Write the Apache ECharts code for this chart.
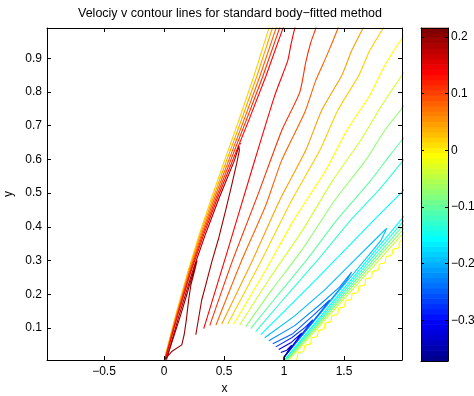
<!DOCTYPE html>
<html>
<head>
<meta charset="utf-8">
<script src="https://cdn.jsdelivr.net/npm/echarts@6.0.0/dist/echarts.min.js"></script>
<style>
html, body { margin: 0; padding: 0; background: #fff; }
#box { width: 474px; height: 396px; }
</style>
</head>
<body>
<div id="box"></div>
<script>
// axis ranges and ticks
var xRange = [-0.975, 1.983];
var yRange = [0.005, 0.99];
var colorRange = [-0.372, 0.216];
var xTicks = [-0.5, 0, 0.5, 1, 1.5];
var yTicks = [0.1, 0.2, 0.3, 0.4, 0.5, 0.6, 0.7, 0.8, 0.9];
var barTicks = [-0.3, -0.2, -0.1, 0, 0.1, 0.2];

// shock band from the origin (levels 0.02 .. 0.14)
var s002 = [[0.002,0.006],[0.098,0.139],[0.198,0.266],[0.298,0.382],[0.398,0.488],[0.506,0.598],[0.623,0.716],[0.748,0.846],[0.873,0.988],[0.884,1.0]];
var s005 = [[0.004,0.006],[0.102,0.139],[0.204,0.266],[0.307,0.382],[0.411,0.488],[0.523,0.598],[0.644,0.716],[0.773,0.846],[0.902,0.988],[0.914,1.0]];
var s008 = [[0.006,0.006],[0.107,0.139],[0.211,0.266],[0.317,0.382],[0.423,0.488],[0.540,0.598],[0.665,0.716],[0.798,0.846],[0.932,0.988],[0.944,1.0]];
var s011 = [[0.008,0.006],[0.111,0.139],[0.217,0.266],[0.326,0.382],[0.436,0.488],[0.556,0.598],[0.685,0.716],[0.823,0.846],[0.961,0.988],[0.974,1.0]];
var s014 = [[0.010,0.006],[0.115,0.139],[0.223,0.266],[0.336,0.382],[0.448,0.488],[0.573,0.598],[0.706,0.716],[0.848,0.846],[0.990,0.988],[1.003,1.0]];

// narrow loops behind the shock
var loopA = [[0.01,0.008],[0.064,0.030],[0.148,0.050],[0.168,0.080],[0.186,0.124],[0.205,0.183],[0.224,0.228],[0.252,0.266],[0.275,0.300],[0.262,0.292],[0.243,0.266],[0.191,0.200],[0.139,0.139],[0.075,0.068],[0.02,0.008]];
var loopB = [[0.265,0.080],[0.314,0.183],[0.348,0.228],[0.398,0.296],[0.456,0.367],[0.514,0.450],[0.564,0.524],[0.606,0.589],[0.628,0.627],[0.624,0.640],[0.614,0.628],[0.588,0.598],[0.462,0.488],[0.349,0.382],[0.236,0.266],[0.127,0.139],[0.02,0.006]];
var dotB = [[0.636,0.645],[0.641,0.648]];

// fan of lines between the two shocks
var f014 = [[0.331,0.098],[0.531,0.331],[0.731,0.568],[0.923,0.790],[1.031,0.893],[1.056,0.938],[1.089,0.988],[1.106,1.006]];
var f011 = [[0.381,0.107],[0.573,0.302],[0.781,0.494],[0.981,0.686],[1.131,0.799],[1.181,0.888],[1.223,0.947],[1.264,0.988],[1.273,1.006]];
var f008 = [[0.433,0.109],[0.642,0.296],[0.848,0.464],[0.981,0.598],[1.173,0.740],[1.264,0.834],[1.356,0.908],[1.448,0.988],[1.464,1.006]];
var f005 = [[0.481,0.112],[0.739,0.302],[0.964,0.479],[1.181,0.627],[1.314,0.746],[1.481,0.849],[1.564,0.923],[1.656,0.988],[1.681,1.006]];
var f002 = [[0.531,0.112],[0.814,0.302],[1.064,0.479],[1.298,0.627],[1.448,0.746],[1.623,0.849],[1.714,0.923],[1.823,0.988],[1.848,1.006]];
var fm001 = [[0.581,0.112],[0.848,0.272],[1.081,0.420],[1.348,0.568],[1.523,0.686],[1.714,0.790],[1.839,0.879],[1.981,0.959],[2.014,0.973]];
var fm004 = [[0.631,0.109],[0.873,0.243],[1.156,0.391],[1.406,0.538],[1.639,0.657],[1.814,0.760],[1.981,0.849],[2.014,0.864]];
var fm007 = [[0.681,0.104],[0.898,0.213],[1.148,0.331],[1.423,0.479],[1.681,0.598],[1.839,0.686],[1.981,0.751],[2.014,0.766]];
var fm010 = [[0.723,0.098],[0.914,0.183],[1.189,0.302],[1.439,0.420],[1.723,0.538],[1.864,0.604],[1.981,0.657],[2.014,0.669]];
var fm013 = [[0.764,0.089],[0.989,0.183],[1.281,0.302],[1.556,0.420],[1.789,0.509],[1.981,0.592],[2.014,0.607]];
var fm016 = [[0.806,0.080],[1.014,0.154],[1.264,0.243],[1.506,0.331],[1.748,0.420],[1.981,0.503],[2.014,0.515]];

// pointed loops ending on the second shock near x = 1
var u019 = [[0.839,0.071],[1.089,0.136],[1.339,0.213],[1.589,0.302],[1.773,0.367],[1.856,0.396],[1.806,0.359],[1.564,0.255],[1.298,0.141],[1.131,0.069],[1.002,0.014],[0.998,0.0]];
var u022 = [[0.873,0.062],[1.089,0.107],[1.298,0.169],[1.464,0.222],[1.564,0.266],[1.523,0.242],[1.381,0.180],[1.173,0.088],[1.002,0.014],[0.998,0.0]];
var u025 = [[0.906,0.053],[1.073,0.083],[1.239,0.136],[1.381,0.183],[1.356,0.171],[1.239,0.119],[1.131,0.071],[1.002,0.014],[0.998,0.0]];
var u028 = [[0.931,0.044],[1.064,0.071],[1.173,0.101],[1.239,0.124],[1.214,0.112],[1.131,0.074],[1.002,0.014],[0.998,0.0]];
var u031 = [[0.956,0.036],[1.056,0.056],[1.148,0.085],[1.131,0.077],[1.064,0.044],[1.002,0.014],[0.998,0.0]];
var u034 = [[0.973,0.027],[1.023,0.034],[1.064,0.049],[1.048,0.040],[1.002,0.014],[0.998,0.0]];

// second shock band from x = 1
var b016 = [[1.006,0.006],[1.981,0.424],[2.02,0.44]];
var b013 = [[1.014,0.006],[1.981,0.411],[2.02,0.427]];
var b010 = [[1.023,0.006],[1.981,0.399],[2.02,0.415]];
var b007 = [[1.031,0.006],[1.981,0.388],[2.02,0.403]];
var b004 = [[1.043,0.006],[1.981,0.376],[2.02,0.392]];
var wavy = [[1.095,0.004],[1.107,0.009],[1.117,0.026],[1.163,0.031],[1.174,0.048],[1.220,0.053],[1.230,0.070],[1.276,0.075],[1.287,0.092],[1.333,0.097],[1.343,0.114],[1.389,0.119],[1.400,0.136],[1.446,0.141],[1.456,0.158],[1.502,0.163],[1.512,0.180],[1.559,0.185],[1.569,0.201],[1.615,0.206],[1.625,0.223],[1.672,0.228],[1.682,0.245],[1.728,0.250],[1.738,0.267],[1.785,0.272],[1.795,0.289],[1.841,0.294],[1.851,0.311],[1.897,0.316],[1.908,0.333],[1.954,0.338],[1.964,0.355],[1.99,0.36]];

// [level, line, smooth]
var contours = [
	[0.02, s002, 0], [0.05, s005, 0], [0.08, s008, 0], [0.11, s011, 0], [0.14, s014, 0],
	[0.205, loopA, 0], [0.19, loopB, 0], [0.19, dotB, 0],
	[0.14, f014, 0.2], [0.11, f011, 0.2], [0.08, f008, 0.2], [0.05, f005, 0.2], [0.02, f002, 0.2],
	[-0.01, fm001, 0.2], [-0.04, fm004, 0.2], [-0.07, fm007, 0.2], [-0.10, fm010, 0.2], [-0.13, fm013, 0.2], [-0.16, fm016, 0.2],
	[-0.19, u019, 0], [-0.22, u022, 0], [-0.25, u025, 0], [-0.28, u028, 0], [-0.31, u031, 0], [-0.34, u034, 0],
	[-0.16, b016, 0], [-0.13, b013, 0], [-0.10, b010, 0], [-0.07, b007, 0], [-0.04, b004, 0],
	[-0.01, wavy, 0.5]
];

// matlab jet(64)
function jet(x) {
	function c(v) { return Math.round(255 * Math.max(0, Math.min(1, v))); }
	return 'rgb(' + c(Math.min(4 * x - 1.5, -4 * x + 4.5)) + ',' +
		c(Math.min(4 * x - 0.5, -4 * x + 3.5)) + ',' +
		c(Math.min(4 * x + 0.5, -4 * x + 2.5)) + ')';
}
function levelColor(v) {
	var i = Math.floor((v - colorRange[0]) / (colorRange[1] - colorRange[0]) * 64) + 1;
	i = Math.max(1, Math.min(64, i));
	return jet(i / 64);
}

var barCells = [];
var step = (colorRange[1] - colorRange[0]) / 64;
for (var i = 0; i < 64; i++) {
	barCells.push([i, colorRange[0] + i * step, colorRange[0] + (i + 1) * step]);
}

var font = 'Liberation Sans, Arial, Helvetica, sans-serif';
function minus(v) { return String(v).replace('-', '\u2212'); }
var black = { color: '#000', width: 1 };

function frameAxis(grid, pos, min, max, ticks, labels, extra) {
	var a = {
		gridIndex: grid, type: 'value', position: pos, min: min, max: max, z: 5,
		axisLine: { show: true, onZero: false, lineStyle: black },
		axisTick: { show: !!ticks, inside: true, length: 4, customValues: ticks || [], lineStyle: black },
		axisLabel: { show: !!labels, customValues: ticks || [], formatter: minus,
			color: '#000', fontSize: 12, fontFamily: font, margin: 6 },
		splitLine: { show: false }
	};
	for (var k in extra) a[k] = extra[k];
	return a;
}

var myChart = echarts.init(document.getElementById('box'), null, { renderer: 'canvas' });

var series = contours.map(function (c) {
	return {
		type: 'line', data: c[1], xAxisIndex: 0, yAxisIndex: 0,
		showSymbol: false, symbol: 'none', smooth: c[2] || false,
		clip: true, silent: true, animation: false, z: 2,
		lineStyle: { color: levelColor(c[0]), width: 1.1 }
	};
});

series.push({
	type: 'custom', xAxisIndex: 2, yAxisIndex: 2, data: barCells, z: 1,
	silent: true, animation: false,
	renderItem: function (params, api) {
		var a = api.coord([0, api.value(1)]);
		var b = api.coord([1, api.value(2)]);
		return {
			type: 'rect',
			shape: { x: a[0], y: b[1] - 0.3, width: b[0] - a[0], height: a[1] - b[1] + 0.6 },
			style: { fill: jet((api.value(0) + 1) / 64) }
		};
	}
});

var option = {
	animation: false,
	backgroundColor: '#fff',
	textStyle: { fontFamily: font },
	title: {
		text: 'Velociy v contour lines for standard body\u2212fitted method',
		left: 225, top: 2, textAlign: 'center',
		textStyle: { color: '#000', fontSize: 12.5, fontWeight: 'normal', fontFamily: font }
	},
	grid: [
		{ left: 47, top: 28, width: 355, height: 332, outerBoundsMode: 'none', containLabel: false },
		{ left: 421, top: 28, width: 27, height: 333, outerBoundsMode: 'none', containLabel: false }
	],
	xAxis: [
		frameAxis(0, 'bottom', xRange[0], xRange[1], xTicks, true, {
			name: 'x', nameLocation: 'middle', nameGap: 21,
			nameTextStyle: { color: '#000', fontSize: 12, fontFamily: font }
		}),
		frameAxis(0, 'top', xRange[0], xRange[1], xTicks, false, {}),
		frameAxis(1, 'bottom', 0, 1, null, false, {}),
		frameAxis(1, 'top', 0, 1, null, false, {})
	],
	yAxis: [
		frameAxis(0, 'left', yRange[0], yRange[1], yTicks, true, {
			name: 'y', nameLocation: 'middle', nameGap: 25,
			nameTextStyle: { color: '#000', fontSize: 12, fontFamily: font }
		}),
		frameAxis(0, 'right', yRange[0], yRange[1], yTicks, false, {}),
		frameAxis(1, 'right', colorRange[0], colorRange[1], barTicks, true, {}),
		frameAxis(1, 'left', colorRange[0], colorRange[1], barTicks, false, {})
	],
	series: series
};
option.yAxis[0].axisLabel.margin = 5;
option.xAxis[0].axisLabel.margin = 6;
option.yAxis[2].axisLabel.margin = 3;
option.yAxis[2].axisTick.length = 3;
option.yAxis[3].axisTick.length = 3;

myChart.setOption(option);
</script>
</body>
</html>
